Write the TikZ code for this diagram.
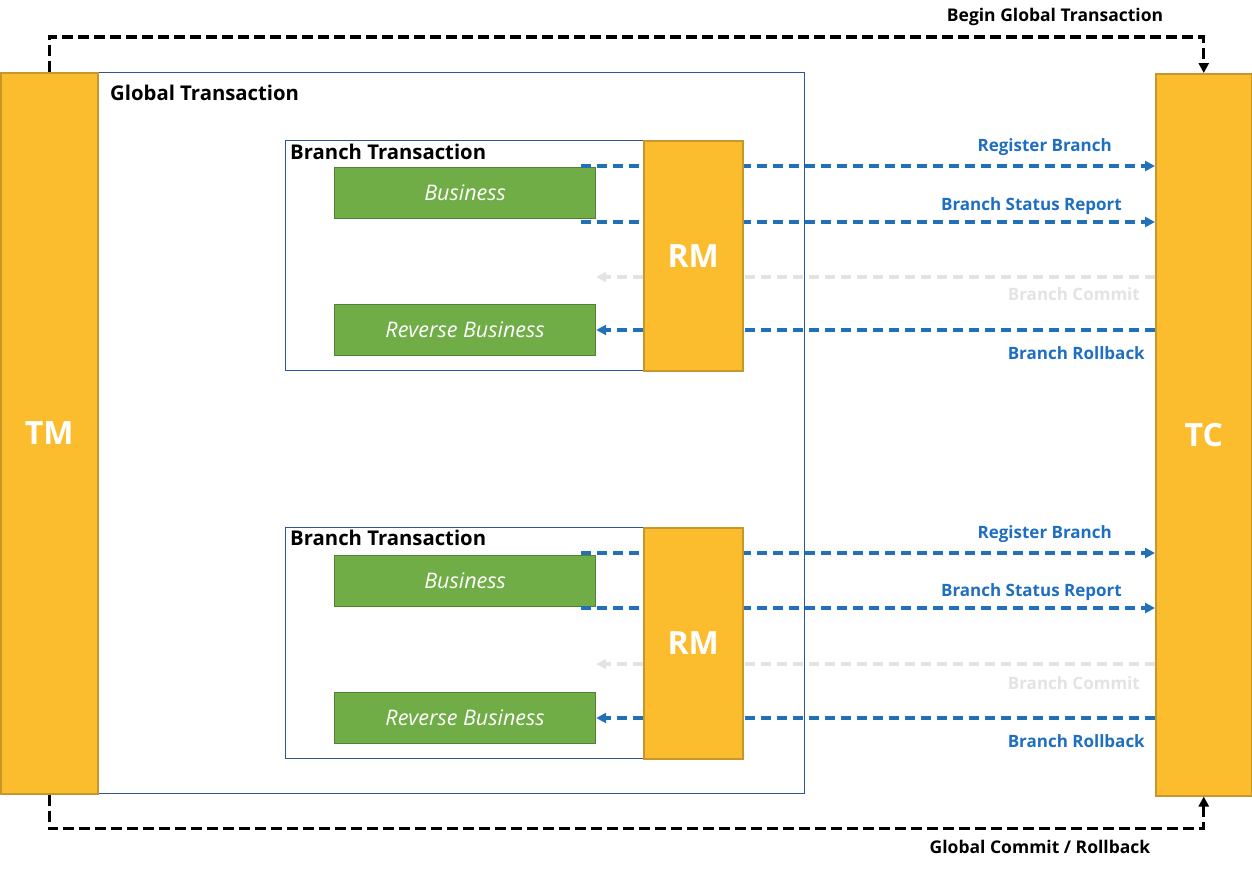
\documentclass[tikz,border=0pt]{standalone}
\usepackage{fontspec}
\setmainfont{Open Sans}
\usetikzlibrary{arrows.meta}
\definecolor{gold}{HTML}{FBBC2E}
\definecolor{goldb}{HTML}{C9962B}
\definecolor{grn}{HTML}{70AD47}
\definecolor{grnb}{HTML}{548235}
\definecolor{framec}{HTML}{2F5597}
\definecolor{arr}{HTML}{2271B8}
\definecolor{lbl}{HTML}{1F6FC0}
\definecolor{ghost}{HTML}{E3E3E3}
\tikzset{
  goldbox/.style={draw=goldb, fill=gold, line width=1.5pt, text=white, inner sep=0pt,
    font=\bfseries\fontsize{32}{36}\selectfont, anchor=north west},
  framebox/.style={draw=framec, line width=1.2pt, inner sep=0pt, anchor=north west},
  greenbox/.style={draw=grnb, fill=grn, line width=1.2pt, text=white, inner sep=0pt,
    font=\itshape\fontsize{21.5}{24}\selectfont, anchor=north west,
    minimum width=261pt, minimum height=51pt},
  title/.style={font=\bfseries\fontsize{20.3}{24}\selectfont, anchor=west, inner sep=0pt},
  blbl/.style={font=\bfseries\fontsize{17}{20}\selectfont, text=lbl, anchor=east, inner sep=0pt},
  glbl/.style={font=\bfseries\fontsize{17}{20}\selectfont, text=ghost, anchor=east, inner sep=0pt},
  klbl/.style={font=\bfseries\fontsize{17.5}{20}\selectfont, text=black, inner sep=0pt},
  tipb/.style={-{Triangle[length=10pt,width=10pt]}},
  bdash/.style={draw=arr, line width=3.2pt, dash pattern=on 10pt off 6pt},
  gdash/.style={draw=ghost, line width=3.2pt, dash pattern=on 10pt off 6pt},
  kdash/.style={draw=black, line width=3.4pt, dash pattern=on 11pt off 5pt},
}
\begin{document}
\begin{tikzpicture}[x=1pt,y=-1pt]
\useasboundingbox (0,0) rectangle (1252,871);
% outer global transaction frame
\node[framebox, minimum width=707pt, minimum height=721pt] (gt) at (97,72) {};
\node[title] (gtl) at (110,93) {Global Transaction};
% TM and TC
\node[goldbox, minimum width=97pt, minimum height=721pt] (tm) at (0,72) {TM};
\node[goldbox, minimum width=96pt, minimum height=722pt] (tc) at (1155,73) {TC};

% ---------- block 1 ----------
\node[framebox, minimum width=358pt, minimum height=230pt] (bt1) at (285,140) {};
\node[title] (bt1l) at (290,152) {Branch Transaction};
\node[greenbox] (bus1) at (334,167) {Business};
\node[greenbox] (rev1) at (334,304) {Reverse Business};
\coordinate (s11) at (581,166);
\coordinate (s12) at (581,222);
\coordinate (g13) at (1155,277);
\coordinate (g14) at (1155,330);
\draw[bdash, tipb] (s11) -- (s11 -| tc.west);
\draw[bdash, tipb] (s12) -- (s12 -| tc.west);
\draw[gdash, tipb] (g13) -- (g13 -| bus1.east);
\draw[bdash, tipb] (g14) -- (g14 -| rev1.east);
\node[goldbox, minimum width=99pt, minimum height=230pt] (rm1) at (643,140) {RM};
\node[blbl] (l11) at (1112,147) {Register Branch};
\node[blbl] (l12) at (1122,206) {Branch Status Report};
\node[glbl] (l13) at (1140,294) {Branch Commit};
\node[blbl] (l14) at (1145,353) {Branch Rollback};

% ---------- block 2 ----------
\node[framebox, minimum width=358pt, minimum height=231pt] (bt2) at (285,527) {};
\node[title] (bt2l) at (290,538) {Branch Transaction};
\node[greenbox] (bus2) at (334,555) {Business};
\node[greenbox] (rev2) at (334,692) {Reverse Business};
\coordinate (s21) at (581,553);
\coordinate (s22) at (581,608);
\coordinate (g23) at (1155,664);
\coordinate (g24) at (1155,718);
\draw[bdash, tipb] (s21) -- (s21 -| tc.west);
\draw[bdash, tipb] (s22) -- (s22 -| tc.west);
\draw[gdash, tipb] (g23) -- (g23 -| bus2.east);
\draw[bdash, tipb] (g24) -- (g24 -| rev2.east);
\node[goldbox, minimum width=99pt, minimum height=231pt] (rm2) at (643,527) {RM};
\node[blbl] (l21) at (1112,534) {Register Branch};
\node[blbl] (l22) at (1122,592) {Branch Status Report};
\node[glbl] (l23) at (1140,683) {Branch Commit};
\node[blbl] (l24) at (1145,741) {Branch Rollback};

% ---------- global begin / end ----------
\draw[kdash, tipb] (tm.north) -- ++(0,-35) -| (tc.north);
\draw[kdash, tipb] (tm.south) -- ++(0,34) -| (tc.south);
\node[klbl] (begin) at (1055,17) {Begin Global Transaction};
\node[klbl] (end) at (1040,847) {Global Commit / Rollback};
\end{tikzpicture}
\end{document}
